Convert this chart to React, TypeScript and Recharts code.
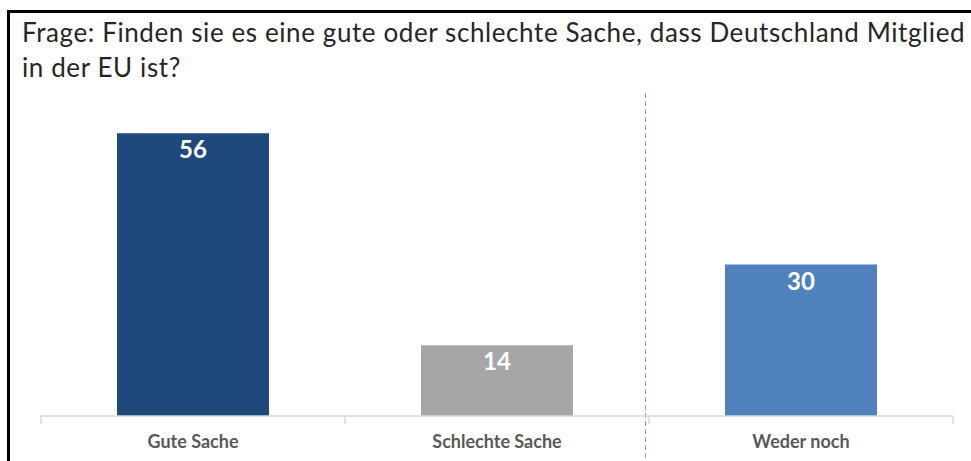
import { Bar, BarChart, Cell, LabelList, XAxis, YAxis } from "recharts";

const categories = ["Gute Sache", "Schlechte Sache", "Weder noch"];
const shares = [56, 14, 30];
const barColors = ["#1F497D", "#A6A6A6", "#4F81BD"];

const titleLines = [
  "Frage: Finden sie es eine gute oder schlechte Sache, dass Deutschland Mitglied",
  "in der EU ist?",
];

const data = categories.map((name, i) => ({ name, value: shares[i] }));

const FONT = "Lato, 'Open Sans', sans-serif";

function CategoryTick(props: any) {
  const { x, y, payload } = props;
  const half = payload?.offset || 152;
  const last = payload?.index === categories.length - 1;
  return (
    <g>
      <line x1={x - half} x2={x - half} y1={y} y2={y + 8} stroke="#D9D9D9" strokeWidth={1.5} />
      {last && (
        <line x1={x + half} x2={x + half} y1={y} y2={y + 8} stroke="#D9D9D9" strokeWidth={1.5} />
      )}
      <text
        x={x}
        y={y + 32}
        textAnchor="middle"
        fill="#595959"
        fontFamily={FONT}
        fontWeight="bold"
        fontSize={18}
      >
        {payload.value}
      </text>
    </g>
  );
}

export default function App() {
  return (
    <div
      style={{
        position: "absolute",
        left: 0,
        top: 0,
        width: 971,
        height: 461,
        overflow: "hidden",
        background: "#fff",
      }}
    >
      <div
        style={{
          position: "absolute",
          left: 7,
          top: 10,
          width: 1000,
          height: 500,
          borderLeft: "3px solid #000",
          borderTop: "3px solid #000",
        }}
      />
      <div
        style={{
          position: "absolute",
          left: 22,
          top: 15,
          fontFamily: FONT,
          fontSize: 26,
          letterSpacing: 0.6,
          lineHeight: "35px",
          color: "#262626",
          whiteSpace: "nowrap",
        }}
      >
        {titleLines.map((line) => (
          <div key={line}>{line}</div>
        ))}
      </div>
      <svg
        width={971}
        height={461}
        style={{ position: "absolute", left: 0, top: 0, pointerEvents: "none" }}
      >
        <line x1={645.5} x2={645.5} y1={93} y2={461} stroke="#7F9FD3" strokeWidth={1} strokeDasharray="5 3" />
      </svg>
      <div style={{ position: "absolute", left: 0, top: 0 }}>
        <BarChart
          width={971}
          height={461}
          data={data}
          margin={{ top: 113, right: 18, bottom: 5, left: 41 }}
          barCategoryGap="25%"
        >
          <XAxis
            dataKey="name"
            height={40}
            tickSize={0}
            tickMargin={0}
            tickLine={false}
            axisLine={{ stroke: "#D9D9D9", strokeWidth: 1.5 }}
            tick={<CategoryTick />}
            interval={0}
          />
          <YAxis hide domain={[0, 60]} width={0} />
          <Bar dataKey="value" isAnimationActive={false}>
            {data.map((d, i) => (
              <Cell key={d.name} fill={barColors[i]} />
            ))}
            <LabelList
              dataKey="value"
              position="insideTop"
              offset={8}
              fill="#FFFFFF"
              fontFamily={FONT}
              fontWeight="bold"
              fontSize={24}
            />
          </Bar>
        </BarChart>
      </div>
    </div>
  );
}
